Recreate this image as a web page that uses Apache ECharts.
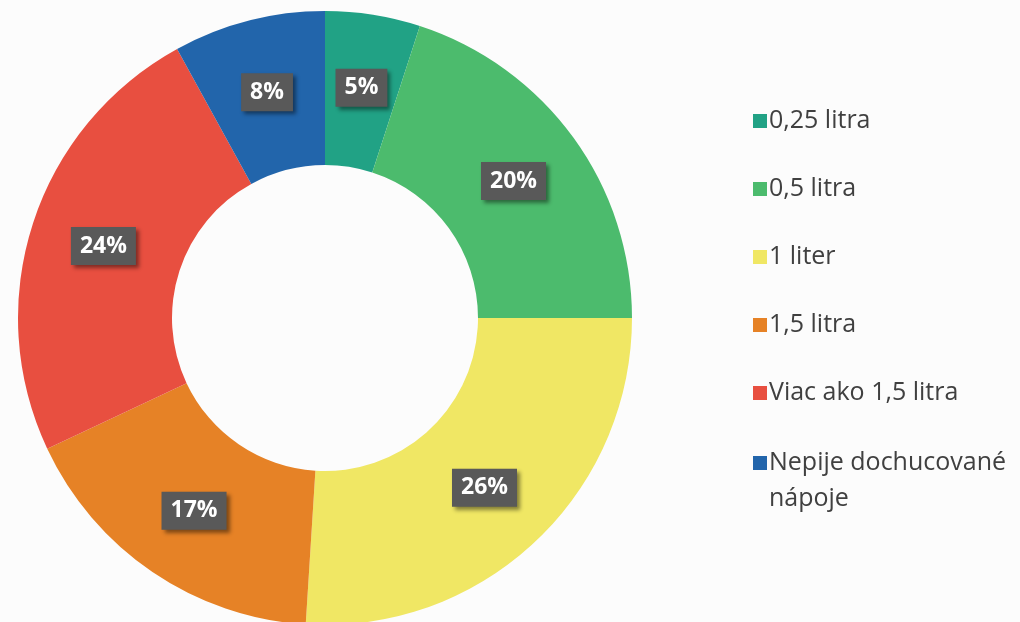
<!DOCTYPE html>
<html>
<head>
<meta charset="utf-8">
<script src="https://cdn.jsdelivr.net/npm/echarts@6/dist/echarts.min.js"></script>
<style>
  html, body { margin: 0; padding: 0; background: #fcfcfc; }
  #chart { width: 1020px; height: 622px; }
</style>
</head>
<body>
<div id="chart"></div>
<script>
// objem vypitych dochucovanych napojov
var categories = ['0,25 litra', '0,5 litra', '1 liter', '1,5 litra', 'Viac ako 1,5 litra', 'Nepije dochucované nápoje']
var values = [5, 20, 26, 17, 24, 8]
var colors = ['#21a285', '#4cbb6d', '#f0e764', '#e68226', '#e84f40', '#2265ab']

var chart = echarts.init(document.getElementById('chart'))

var data = categories.map(function (name, i) {
  return { name: name, value: values[i] }
})

var legendText = {
  fontFamily: 'Open Sans',
  fontSize: 25,
  color: '#404040',
  lineHeight: 26,
  padding: [0, 0, 0, -3]
}

var option = {
  backgroundColor: '#fcfcfc',
  color: colors,
  legend: [
    {
      orient: 'vertical',
      left: 748,
      top: 103,
      itemWidth: 14,
      itemHeight: 14,
      itemGap: 42,
      icon: 'rect',
      data: categories.slice(0, 5),
      textStyle: legendText
    },
    {
      // posledna polozka ma dva riadky: stvorcek hore (neviditelny bod dole natiahne ikonu)
      orient: 'vertical',
      left: 748,
      top: 440,
      itemWidth: 14,
      itemHeight: 50,
      icon: 'path://M0,0h14v14h-14z M0,49.99h0.01v0.01h-0.01z',
      data: categories.slice(5),
      formatter: function (name) {
        return 'Nepije dochucované\nnápoje'
      },
      textStyle: Object.assign({}, legendText, { lineHeight: 36 })
    }
  ],
  series: [{
    type: 'pie',
    center: [325, 318],
    radius: [153, 307],
    startAngle: 90,
    clockwise: true,
    avoidLabelOverlap: false,
    data: data,
    itemStyle: { borderWidth: 0 },
    label: {
      show: true,
      position: 'inside',
      formatter: '{c}%',
      fontFamily: 'Open Sans',
      fontWeight: 'bold',
      fontSize: 23,
      color: '#ffffff',
      backgroundColor: '#595959',
      padding: [9, 9, 6, 9],
      shadowColor: 'rgba(0,0,0,0.45)',
      shadowBlur: 4,
      shadowOffsetX: 3,
      shadowOffsetY: 3
    },
    labelLine: { show: false },
    emphasis: { disabled: true }
  }]
}

chart.setOption(option)
</script>
</body>
</html>
